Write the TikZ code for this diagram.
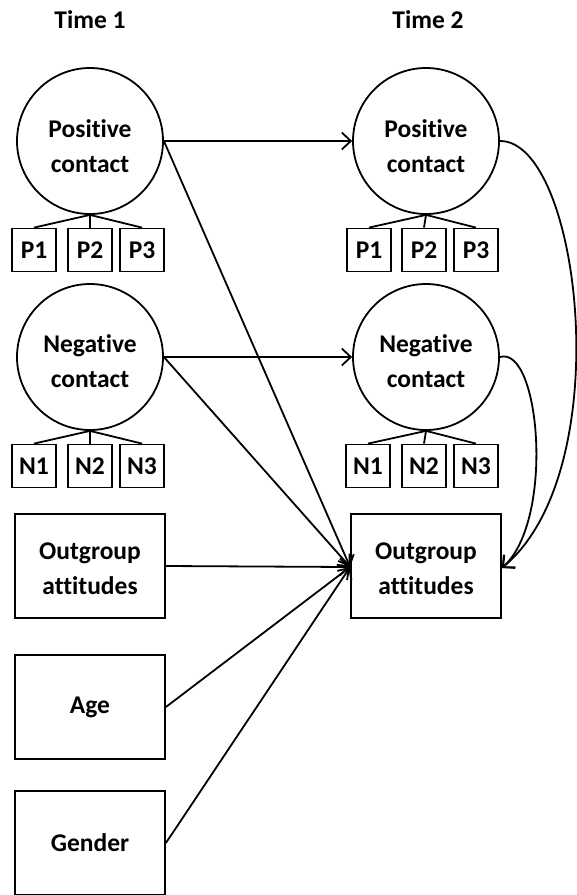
\documentclass[tikz,border=0pt]{standalone}
\usepackage{fontspec}
\setmainfont[Ligatures=NoCommon]{Carlito}
\usetikzlibrary{arrows.meta}
\begin{document}
\begin{tikzpicture}[x=1pt,y=-1pt,
  every node/.style={font=\fontsize{25.5}{35}\selectfont\bfseries, align=center},
  latent/.style={draw, line width=1.8pt, circle, minimum size=146pt, inner sep=0pt},
  indic/.style={draw, line width=1.8pt, minimum width=44pt, minimum height=43pt, inner sep=0pt},
  obs/.style={draw, line width=1.8pt, minimum width=150pt, minimum height=104pt, inner sep=0pt},
  txt/.style={inner sep=0pt},
  load/.style={line width=1.8pt},
  path/.style={line width=1.8pt, -{Straight Barb[length=9pt,width=17pt,line width=1.8pt]}}
]
\useasboundingbox (0,0) rectangle (577,895);
\node (t1) at (90,20) {Time 1};
\node (t2) at (428,20) {Time 2};
% Time 1
\node[latent] (pc1) at (90,141) {};
\node[txt] (pc1t) at (90,146) {Positive\\contact};
\node[indic] (p11) at (34,250) {P1};
\node[indic] (p12) at (90,250) {P2};
\node[indic] (p13) at (142,250) {P3};
\node[latent] (nc1) at (90,357) {};
\node[txt] (nc1t) at (90,361) {Negative\\contact};
\node[indic] (n11) at (34,466) {N1};
\node[indic] (n12) at (90,466) {N2};
\node[indic] (n13) at (142,466) {N3};
\node[obs] (oa1) at (90,566) {};
\node[txt] (oa1t) at (90,569) {Outgroup\\attitudes};
\node[obs] (age) at (90,707) {Age};
\node[obs] (gen) at (90,843) {Gender};
% Time 2
\node[latent] (pc2) at (426,141) {};
\node[txt] (pc2t) at (426,146) {Positive\\contact};
\node[indic] (p21) at (369,250) {P1};
\node[indic] (p22) at (424,250) {P2};
\node[indic] (p23) at (476,250) {P3};
\node[latent] (nc2) at (426,357) {};
\node[txt] (nc2t) at (426,361) {Negative\\contact};
\node[indic] (n21) at (368,466) {N1};
\node[indic] (n22) at (424,466) {N2};
\node[indic] (n23) at (476,466) {N3};
\node[obs] (oa2) at (426,566) {};
\node[txt] (oa2t) at (426,569) {Outgroup\\attitudes};
% loadings
\foreach \a/\b in {pc1/p11,pc1/p12,pc1/p13,nc1/n11,nc1/n12,nc1/n13,pc2/p21,pc2/p22,pc2/p23,nc2/n21,nc2/n22,nc2/n23}
  \draw[load] (\a.south) -- (\b.north);
% paths
\coordinate (tgt) at ([yshift=-1pt]oa2.west);
\draw[path] (pc1.east) -- (pc2.west);
\draw[path] (nc1.east) -- (nc2.west);
\draw[path] (pc1.east) -- (tgt);
\draw[path] (nc1.east) -- (tgt);
\draw[path] (oa1.east) -- (tgt);
\draw[path] (age.east) -- (tgt);
\draw[path] (gen.east) -- (tgt);
\coordinate (tgtr) at ([yshift=-2pt]oa2.east);
\draw[path] (pc2.east) .. controls (580,140) and (620,470) .. (tgtr);
\draw[path] (nc2.east) .. controls (540,345) and (555,520) .. (tgtr);
\end{tikzpicture}
\end{document}
